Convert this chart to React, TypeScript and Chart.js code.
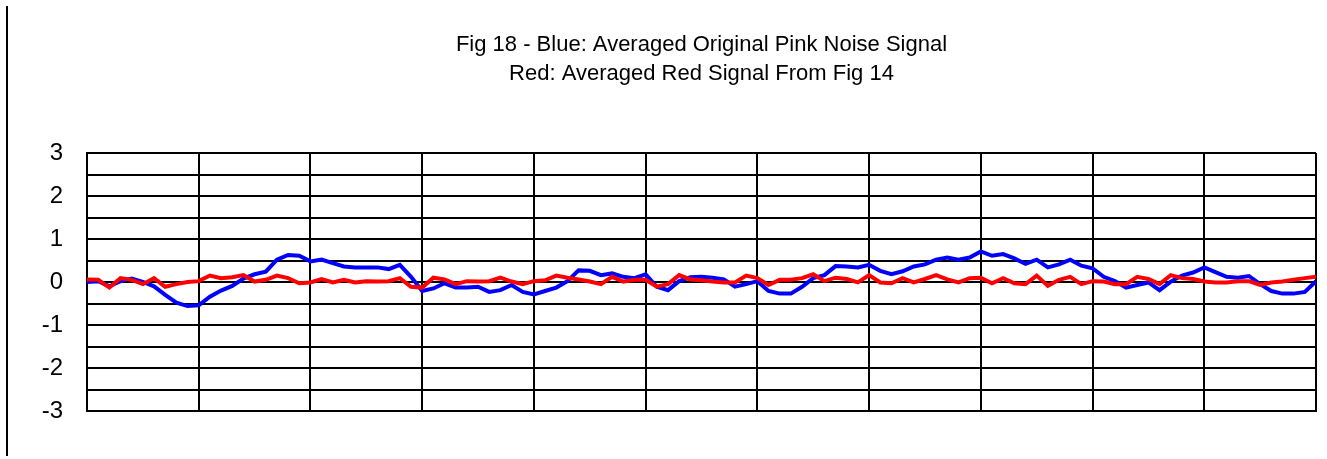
import React, { useEffect, useRef } from "react";
import { Chart, registerables } from "chart.js";

Chart.register(...registerables);

const titleLines = [
  "Fig 18 - Blue: Averaged Original Pink Noise Signal",
  "Red: Averaged Red Signal From Fig 14",
];

const yTickValues = [-3, -2, -1, 0, 1, 2, 3];

const blueSignal = [
  0, 0.02, -0.1, 0.02, 0.08, 0, -0.1, -0.3, -0.48, -0.56,
  -0.54, -0.34, -0.2, -0.09, 0.08, 0.18, 0.24, 0.52, 0.63, 0.61,
  0.48, 0.52, 0.44, 0.36, 0.34, 0.34, 0.34, 0.3, 0.4, 0.12,
  -0.21, -0.15, -0.03, -0.13, -0.13, -0.11, -0.23, -0.19, -0.07, -0.23,
  -0.29, -0.21, -0.13, 0.02, 0.27, 0.26, 0.16, 0.2, 0.12, 0.09,
  0.18, -0.11, -0.19, 0.02, 0.11, 0.12, 0.1, 0.06, -0.11, -0.05,
  0.02, -0.21, -0.27, -0.27, -0.11, 0.09, 0.16, 0.37, 0.36, 0.34,
  0.4, 0.26, 0.18, 0.25, 0.36, 0.41, 0.52, 0.57, 0.52, 0.57,
  0.71, 0.61, 0.65, 0.55, 0.42, 0.52, 0.34, 0.41, 0.52, 0.38,
  0.32, 0.12, 0.02, -0.13, -0.07, -0.01, -0.19, 0.01, 0.15, 0.22,
  0.34, 0.23, 0.12, 0.1, 0.14, -0.05, -0.21, -0.27, -0.27, -0.23,
  0.02,
];

const redSignal = [
  0.06, 0.05, -0.13, 0.09, 0.05, -0.05, 0.09, -0.11, -0.05, 0,
  0.02, 0.15, 0.09, 0.11, 0.16, 0.01, 0.05, 0.15, 0.09, -0.03,
  -0.01, 0.07, -0.01, 0.05, -0.01, 0.02, 0.01, 0.02, 0.09, -0.11,
  -0.13, 0.1, 0.06, -0.05, 0.02, 0.01, 0.02, 0.1, 0.01, -0.05,
  0.02, 0.04, 0.15, 0.1, 0.06, 0.01, -0.05, 0.12, 0.01, 0.05,
  0.05, -0.11, -0.05, 0.16, 0.06, 0.04, 0.01, -0.01, -0.01, 0.15,
  0.09, -0.07, 0.05, 0.05, 0.09, 0.18, 0.02, 0.1, 0.07, -0.01,
  0.16, -0.01, -0.03, 0.09, -0.01, 0.07, 0.16, 0.06, -0.01, 0.09,
  0.1, -0.03, 0.09, -0.03, -0.05, 0.15, -0.09, 0.05, 0.12, -0.05,
  0.02, 0.01, -0.05, -0.05, 0.12, 0.07, -0.05, 0.16, 0.09, 0.07,
  0.01, -0.01, -0.01, 0.02, 0.02, -0.07, -0.01, 0.01, 0.05, 0.09,
  0.12,
];

const FONT = "'Liberation Sans', Arial, sans-serif";

export default function App() {
  const canvasRef = useRef<HTMLCanvasElement | null>(null);

  useEffect(() => {
    const canvas = canvasRef.current;
    if (!canvas) return;
    const toPoints = (arr: number[]) => arr.map((v, i) => ({ x: i, y: v }));
    const chart = new Chart(canvas, {
      type: "line",
      data: {
        datasets: [
          {
            label: "Blue",
            data: toPoints(blueSignal),
            borderColor: "#0000ff",
            borderWidth: 4,
            pointRadius: 0,
            tension: 0,
            fill: false,
            order: 1,
          },
          {
            label: "Red",
            data: toPoints(redSignal),
            borderColor: "#ff0000",
            borderWidth: 4,
            pointRadius: 0,
            tension: 0,
            fill: false,
            order: 0,
          },
        ],
      },
      options: {
        animation: false,
        responsive: true,
        maintainAspectRatio: false,
        layout: { padding: { top: 0, right: 11, bottom: 48, left: 0 } },
        plugins: {
          legend: { display: false },
          tooltip: { enabled: false },
          title: {
            display: true,
            text: titleLines,
            fullSize: false,
            color: "#000",
            font: { family: FONT, size: 22, weight: "normal", lineHeight: "29px" },
            padding: { top: 30, bottom: 65 },
          },
        },
        scales: {
          x: {
            type: "linear",
            min: 0,
            max: blueSignal.length - 1,
            ticks: { display: false, stepSize: 10 },
            grid: { color: "#000", lineWidth: 2, drawTicks: false },
            border: { display: true, color: "#000", width: 2 },
          },
          y: {
            min: -3,
            max: 3,
            afterFit: (scale: any) => {
              scale.width = 79;
            },
            ticks: {
              stepSize: 0.5,
              autoSkip: false,
              padding: 24,
              color: "#000",
              font: { family: FONT, size: 24 },
              callback: (v: any) =>
                yTickValues.includes(Number(v)) ? String(v) : "",
            },
            grid: { color: "#000", lineWidth: 2, drawTicks: false },
            border: { display: true, color: "#000", width: 2 },
          },
        },
      },
    });
    return () => chart.destroy();
  }, []);

  return (
    <>
      <div
        style={{
          position: "absolute",
          left: 6,
          top: 6,
          width: 2,
          height: 450,
          background: "#000",
        }}
      />
      <div
        style={{
          position: "absolute",
          left: 8,
          top: 0,
          width: 1319,
          height: 459,
        }}
      >
        <canvas ref={canvasRef} />
      </div>
    </>
  );
}
